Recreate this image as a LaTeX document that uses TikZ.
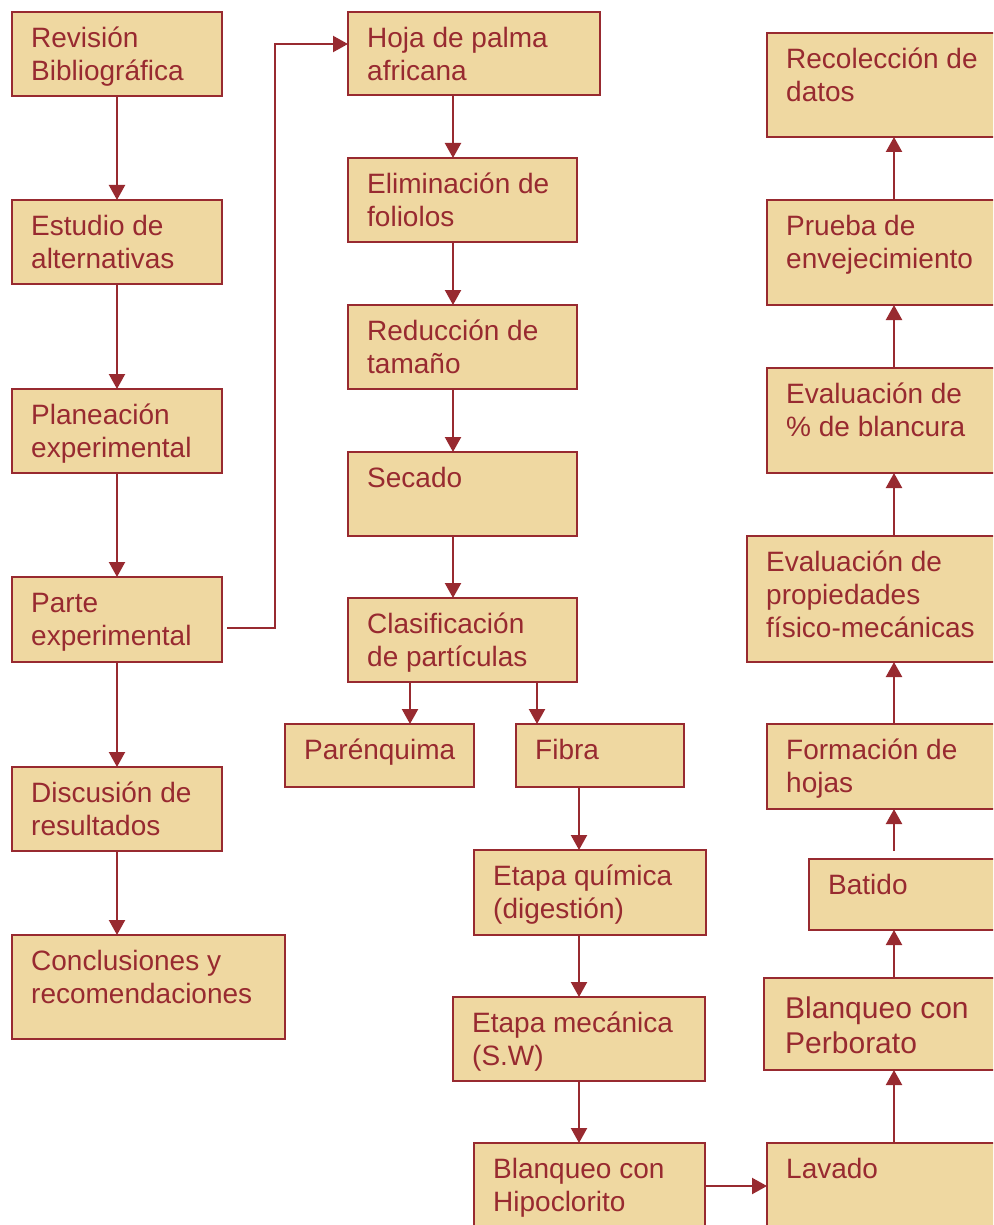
\documentclass[tikz,border=0pt]{standalone}
\usepackage{fontspec}
\setmainfont{Liberation Sans}
\usetikzlibrary{arrows.meta,calc}
\definecolor{brick}{HTML}{982A30}
\definecolor{parch}{HTML}{EFD8A1}
\newcommand\mytxt[1]{\begin{tabular}[t]{@{}l@{}}#1\end{tabular}}
\newcommand\flowbox[6]{%
  \node[box,minimum width={(#4-#2)*1pt},minimum height={(#5-#3)*1pt}] (#1) at ({(#2+#4)/2},{(#3+#5)/2}) {};
  \node[txt,anchor=base west] (#1t) at ([shift={(19,35.5)}]#1.north west) {\mytxt{#6}};}
\begin{document}
\begin{tikzpicture}[x=1pt,y=-1pt,
  box/.style={draw=brick,line width=2.2pt,fill=parch,inner sep=0pt,outer sep=0pt},
  txt/.style={text=brick,inner sep=0pt,font=\fontsize{28}{33}\selectfont},
  bigtxt/.style={text=brick,inner sep=0pt,font=\fontsize{30}{35}\selectfont},
  arr/.style={draw=brick,line width=2.2pt,-{Triangle[length=15pt,width=16pt]}}]
\useasboundingbox (0,0) rectangle (993,1225);
\clip (0,0) rectangle (993,1225);
% left column
\flowbox{L1}{12}{12}{222}{96}{Revisión\\Bibliográfica}
\flowbox{L2}{12}{200}{222}{284}{Estudio de\\alternativas}
\flowbox{L3}{12}{389}{222}{473}{Planeación\\experimental}
\flowbox{L4}{12}{577}{222}{662}{Parte\\experimental}
\flowbox{L5}{12}{767}{222}{851}{Discusión de\\resultados}
\flowbox{L6}{12}{935}{285}{1039}{Conclusiones y\\recomendaciones}
% middle column
\flowbox{M1}{348}{12}{600}{95}{Hoja de palma\\africana}
\flowbox{M2}{348}{158}{577}{242}{Eliminación de\\foliolos}
\flowbox{M3}{348}{305}{577}{389}{Reducción de\\tamaño}
\flowbox{M4}{348}{452}{577}{536}{Secado}
\flowbox{M5}{348}{598}{577}{682}{Clasificación\\de partículas}
\flowbox{P}{285}{724}{474}{787}{Parénquima}
\flowbox{F}{516}{724}{684}{787}{Fibra}
\flowbox{Q}{474}{850}{706}{935}{Etapa química\\(digestión)}
\flowbox{W}{453}{997}{705}{1081}{Etapa mecánica\\(S.W)}
\flowbox{H}{474}{1143}{705}{1245}{Blanqueo con\\Hipoclorito}
% right column
\flowbox{R1}{767}{33}{1005}{137}{Recolección de\\datos}
\flowbox{R2}{767}{200}{1005}{305}{Prueba de\\envejecimiento}
\flowbox{R3}{767}{368}{1005}{473}{Evaluación de\\\% de blancura}
\flowbox{R4}{747}{536}{1005}{662}{Evaluación de\\propiedades\\físico-mecánicas}
\flowbox{R5}{767}{724}{1005}{809}{Formación de\\hojas}
\flowbox{R6}{809}{859}{1005}{930}{Batido}
\node[box,minimum width=241pt,minimum height=92pt] (R7) at (884.5,1024) {};
\node[bigtxt,anchor=base west] (R7t) at ([shift={(21,40)}]R7.north west) {\mytxt{Blanqueo con\\Perborato}};
\flowbox{R8}{767}{1143}{1005}{1245}{Lavado}
% guide coordinates
\coordinate (lx) at (117,0);
\coordinate (mx) at (453,0);
\coordinate (px) at (410,0);
\coordinate (fx) at (537,0);
\coordinate (qx) at (579,0);
\coordinate (rx) at (894,0);
\coordinate (hy) at (0,1186);
\coordinate (ps) at (227,628);
\coordinate (pk) at (275,44);
\coordinate (bt) at (894,851);
% left connectors
\draw[arr] (lx |- L1.south) -- (lx |- L2.north);
\draw[arr] (lx |- L2.south) -- (lx |- L3.north);
\draw[arr] (lx |- L3.south) -- (lx |- L4.north);
\draw[arr] (lx |- L4.south) -- (lx |- L5.north);
\draw[arr] (lx |- L5.south) -- (lx |- L6.north);
\draw[arr] (ps) -| (pk) -- (M1.west |- pk);
% middle connectors
\draw[arr] (mx |- M1.south) -- (mx |- M2.north);
\draw[arr] (mx |- M2.south) -- (mx |- M3.north);
\draw[arr] (mx |- M3.south) -- (mx |- M4.north);
\draw[arr] (mx |- M4.south) -- (mx |- M5.north);
\draw[arr] (px |- M5.south) -- (px |- P.north);
\draw[arr] (fx |- M5.south) -- (fx |- F.north);
\draw[arr] (qx |- F.south) -- (qx |- Q.north);
\draw[arr] (qx |- Q.south) -- (qx |- W.north);
\draw[arr] (qx |- W.south) -- (qx |- H.north);
\draw[arr] (H.east |- hy) -- (R8.west |- hy);
% right connectors
\draw[arr] (rx |- R8.north) -- (rx |- R7.south);
\draw[arr] (rx |- R7.north) -- (rx |- R6.south);
\draw[arr] (bt) -- (rx |- R5.south);
\draw[arr] (rx |- R5.north) -- (rx |- R4.south);
\draw[arr] (rx |- R4.north) -- (rx |- R3.south);
\draw[arr] (rx |- R3.north) -- (rx |- R2.south);
\draw[arr] (rx |- R2.north) -- (rx |- R1.south);
\end{tikzpicture}
\end{document}
